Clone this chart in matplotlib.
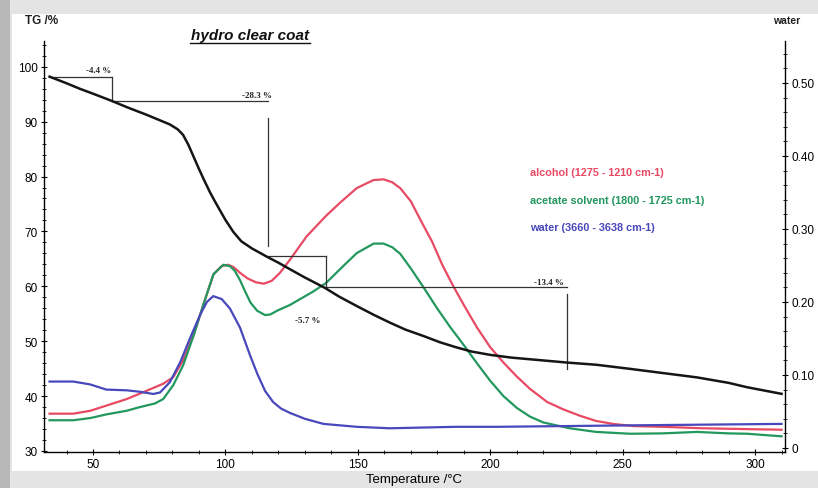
import matplotlib
matplotlib.use("Agg")
import matplotlib.pyplot as plt
from matplotlib.patches import Rectangle

plt.rcParams['font.family'] = ['Liberation Sans', 'DejaVu Sans']

# ---------------- data ----------------
# TG curve (left axis, %)
tg_temp = [33.6, 40, 45, 50, 57, 63, 70, 75, 79, 82, 84, 86, 88, 90, 92, 94, 96, 98, 100,
           103, 106, 110, 116, 120, 124.4, 130, 137.6, 143, 150, 156, 162, 168, 175, 181, 187,
           193, 200, 208, 215, 222, 229, 240, 252, 265, 278, 290, 297, 310]
tg_val = [98.2, 97.0, 96.0, 95.1, 93.8, 92.6, 91.3, 90.3, 89.5, 88.6, 87.6, 85.8, 83.6, 81.4,
          79.3, 77.3, 75.5, 73.8, 72.1, 69.9, 68.2, 66.9, 65.3, 64.3, 63.1, 61.6, 59.7, 58.1,
          56.3, 54.8, 53.4, 52.1, 50.9, 49.8, 48.9, 48.1, 47.5, 47.0, 46.7, 46.4, 46.1, 45.7,
          45.0, 44.2, 43.4, 42.4, 41.6, 40.4]

# IR traces (right axis, "water")
alc_temp = [33.6, 42.6, 49, 55, 62.7, 70, 76.5, 80.3, 84, 88, 92, 95.5, 98.5, 101, 103, 105.5,
            108.5, 111.5, 114.5, 117.5, 120.6, 124.4, 130.7, 138, 143.3, 149.6, 155.9, 159.7,
            163, 166, 170, 174, 178, 182, 186, 190, 195, 200, 205, 210, 215, 221.5, 227.5, 234,
            240, 246.4, 254, 265, 280, 295, 310]
alc_val = [0.047, 0.047, 0.051, 0.058, 0.067, 0.078, 0.088, 0.097, 0.120, 0.155, 0.200, 0.238,
           0.249, 0.251, 0.248, 0.240, 0.232, 0.227, 0.225, 0.229, 0.240, 0.258, 0.290, 0.318,
           0.336, 0.356, 0.367, 0.368, 0.364, 0.356, 0.338, 0.310, 0.283, 0.250, 0.222, 0.196,
           0.165, 0.138, 0.117, 0.098, 0.081, 0.063, 0.053, 0.044, 0.037, 0.033, 0.030, 0.029,
           0.027, 0.026, 0.025]

ace_temp = [33.6, 42.6, 49, 55, 62.7, 67.7, 73.4, 76.5, 80.3, 84, 88, 92, 95.5, 99.2, 101.7,
            103.5, 105.5, 107.5, 109.5, 112, 115, 117, 119.5, 124.4, 133, 138, 143.3, 149.6,
            156, 159.7, 163, 166, 170, 175, 180, 185, 190, 195, 200, 205, 210, 215, 220, 225,
            230, 240, 252.8, 265, 278, 290, 297, 310]
ace_val = [0.038, 0.038, 0.041, 0.046, 0.051, 0.056, 0.061, 0.067, 0.086, 0.113, 0.154, 0.200,
           0.238, 0.251, 0.249, 0.243, 0.230, 0.214, 0.199, 0.188, 0.182, 0.183, 0.188, 0.196,
           0.214, 0.226, 0.245, 0.267, 0.280, 0.280, 0.275, 0.266, 0.246, 0.219, 0.191, 0.165,
           0.141, 0.116, 0.092, 0.071, 0.055, 0.043, 0.035, 0.031, 0.027, 0.022, 0.0195, 0.020,
           0.022, 0.020, 0.0195, 0.016]

wat_temp = [33.6, 42.6, 49, 55, 62.7, 67.7, 72.8, 75.3, 79, 83, 86.6, 90.4, 93, 95.4, 98.6,
            101.7, 105.5, 109.3, 112, 115, 118, 121, 124.4, 130, 137, 149.6, 162, 187, 202.5,
            253, 310]
wat_val = [0.091, 0.091, 0.087, 0.080, 0.079, 0.077, 0.074, 0.076, 0.090, 0.118, 0.150, 0.182,
           0.200, 0.208, 0.204, 0.191, 0.165, 0.127, 0.102, 0.078, 0.063, 0.054, 0.048, 0.040,
           0.033, 0.029, 0.027, 0.029, 0.029, 0.031, 0.033]

# step annotations
step_t0 = [33.6, 57, 116, 138]
step_t1 = [57, 116, 138, 229]
step_lo = [98.2, 93.8, 65.5, 59.8]
step_hi = [93.8, 65.5, 59.8, 46.4]
step_lab = ['-4.4 %', '-28.3 %', '-5.7 %', '-13.4 %']

legend_labels = ['alcohol (1275 - 1210 cm-1)', 'acetate solvent (1800 - 1725 cm-1)',
                 'water (3660 - 3638 cm-1)']
colors = ['#e84a64', '#22975e', '#4848bc']

# ---------------- figure ----------------
fig = plt.figure(figsize=(8.18, 4.89), dpi=100, facecolor='#e4e4e4')
fig.patches.append(Rectangle((12/818, 17/489), 806/818, 457/489, transform=fig.transFigure,
                             facecolor='white', edgecolor='none', zorder=-10))
fig.patches.append(Rectangle((0, 0), 10/818, 1, transform=fig.transFigure,
                             facecolor='#b8b8b8', edgecolor='none', zorder=-10))

ax = fig.add_axes([44/818, 36/489, 741/818, 411/489])
ax2 = ax.twinx()
ax.set_facecolor('none')
ax2.set_facecolor('none')

ax.set_xlim(31.5, 311.3)
ax.set_ylim(29.8, 104.7)
ax2.set_ylim(-0.0055, 0.5575)

for a in (ax, ax2):
    a.spines['top'].set_visible(False)
ax.spines['right'].set_visible(False)
ax2.spines['left'].set_visible(False)
ax2.spines['bottom'].set_visible(False)
for s in ['left', 'bottom']:
    ax.spines[s].set_linewidth(1.0)
ax2.spines['right'].set_linewidth(1.0)

ax.set_xticks([50, 100, 150, 200, 250, 300])
ax.set_xticks(range(40, 311, 10), minor=True)
ax.set_yticks([30, 40, 50, 60, 70, 80, 90, 100])
ax.set_yticks(range(30, 105, 2), minor=True)
ax2.set_yticks([0, 0.1, 0.2, 0.3, 0.4, 0.5])
ax2.set_yticklabels(['0', '0.10', '0.20', '0.30', '0.40', '0.50'])
ax2.set_yticks([i * 0.02 for i in range(0, 28)], minor=True)

ax.tick_params(axis='both', which='major', direction='inout', length=5, width=0.8,
               labelsize=8.5, pad=2)
ax.tick_params(axis='both', which='minor', direction='inout', length=3, width=0.6)
ax2.tick_params(axis='y', which='major', direction='inout', length=5, width=0.8,
                labelsize=8.5, pad=2)
ax2.tick_params(axis='y', which='minor', direction='inout', length=3, width=0.6)

# IR traces
ax2.plot(alc_temp, alc_val, color=colors[0], lw=1.6, solid_joinstyle='round')
ax2.plot(ace_temp, ace_val, color=colors[1], lw=1.6, solid_joinstyle='round')
ax2.plot(wat_temp, wat_val, color=colors[2], lw=1.6, solid_joinstyle='round')

# TG curve drawn on top
ax.set_zorder(ax2.get_zorder() + 1)
ax.plot(tg_temp, tg_val, color='#151515', lw=1.8, solid_joinstyle='round', zorder=5)

# step annotations
lc = '#333333'
for i in range(4):
    ax.plot([step_t0[i], step_t1[i]], [step_lo[i], step_lo[i]], color=lc, lw=0.9, zorder=4)
ax.plot([57, 57], [98.2, 93.8], color=lc, lw=0.9)
ax.plot([116, 116], [90.6, 67.3], color=lc, lw=0.9)
ax.plot([138, 138], [65.5, 59.8], color=lc, lw=0.9)
ax.plot([229, 229], [58.6, 44.9], color=lc, lw=0.9)

kw = dict(fontsize=6.5, fontweight='bold', color='#222222', family='Liberation Serif')
ax.text(52, 98.6, step_lab[0], ha='center', va='bottom', **kw)
ax.text(112, 94.2, step_lab[1], ha='center', va='bottom', **kw)
ax.text(131, 53.8, step_lab[2], ha='center', va='center', **kw)
ax.text(222, 60.1, step_lab[3], ha='center', va='bottom', **kw)

# legend texts
for i, (lab, c) in enumerate(zip(legend_labels, colors)):
    ax.text(0.656, 0.681 - i * 0.067, lab, transform=ax.transAxes, color=c,
            fontsize=7.8, fontweight='bold', ha='left', va='center')

# titles and labels
fig.text(25/818, 1 - 21/489, 'TG /%', fontsize=8.5, fontweight='bold', ha='left', va='center',
         color='#222222')
fig.text(773/818, 1 - 21/489, 'water', fontsize=7.5, fontweight='bold', ha='left',
         va='center', color='#222222')
fig.text(250/818, 1 - 36/489, 'hydro clear coat', fontsize=11, fontweight='bold',
         style='italic', ha='center', va='center', color='#111111')
fig.add_artist(plt.Line2D([190/818, 310/818], [1 - 44/489, 1 - 44/489],
                          transform=fig.transFigure, color='#111111', lw=1.0))
ax.set_xlabel('Temperature /°C', fontsize=9.5, labelpad=2)

fig.savefig('out.png', dpi=100, facecolor=fig.get_facecolor())
